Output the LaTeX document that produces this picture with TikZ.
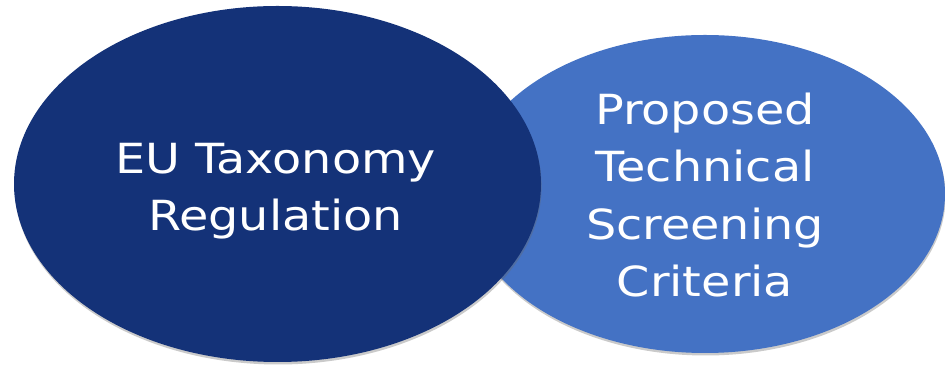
\documentclass[tikz,border=0pt]{standalone}
\usepackage{fontspec}
\setmainfont{DejaVu Sans}[FakeStretch=1.15]
\usetikzlibrary{shapes.geometric,shadows}
\definecolor{navy}{RGB}{20,50,120}
\definecolor{officeblue}{RGB}{68,114,196}
\tikzset{
  bubble/.style={ellipse, inner sep=0pt,
    drop shadow={opacity=0.35, fill=black!60, shadow xshift=0.6pt, shadow yshift=-2.5pt}},
  bubbletext/.style={text=white, align=center, inner sep=0pt,
    font=\fontsize{41.5}{57.5}\selectfont}
}
\begin{document}
\begin{tikzpicture}[x=1pt,y=1pt]
\useasboundingbox (0,0) rectangle (945,366);
\node[bubble, fill=officeblue, minimum width=480pt, minimum height=318pt] (tsc) at (705,172) {};
\node[bubbletext] (tsct) at ([yshift=-1pt]tsc.center) {Proposed\\Technical\\Screening\\Criteria};
\node[bubble, fill=navy, minimum width=527pt, minimum height=356pt] (eu) at (277.5,182) {};
\node[bubbletext] (eut) at ([xshift=-2pt,yshift=-7pt]eu.center) {EU Taxonomy\\Regulation};
\end{tikzpicture}
\end{document}
